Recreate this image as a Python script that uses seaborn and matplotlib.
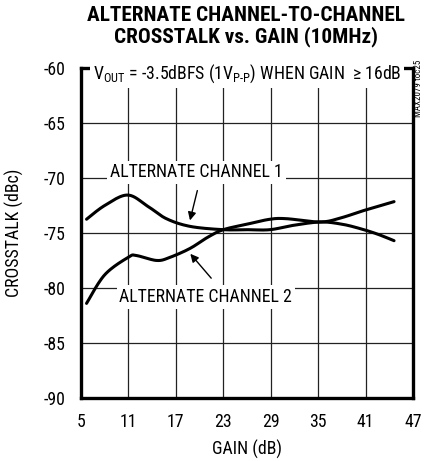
import numpy as np
import pandas as pd
import seaborn as sns
import matplotlib
matplotlib.use("Agg")
import matplotlib.pyplot as plt

# Measured crosstalk vs. gain at 10MHz
gain_ch1 = [5.7, 8.0, 10.9, 13.5, 15.8, 18.8, 23.0, 26.0, 28.9, 31.9, 35.3, 38.0, 40.3, 42.5, 44.6]
xtalk_ch1 = [-73.75, -72.5, -71.55, -72.6, -73.7, -74.4, -74.7, -74.7, -74.7, -74.3, -74.0, -74.2, -74.6, -75.1, -75.7]

gain_ch2 = [5.7, 8.0, 11.0, 12.0, 14.6, 16.3, 18.8, 21.0, 23.0, 26.0, 28.9, 31.0, 35.3, 38.0, 40.3, 42.5, 44.6]
xtalk_ch2 = [-81.4, -78.8, -77.2, -77.05, -77.5, -77.2, -76.4, -75.4, -74.7, -74.2, -73.75, -73.7, -74.0, -73.6, -73.06, -72.6, -72.15]

x_ticks = [5, 11, 17, 23, 29, 35, 41, 47]
y_ticks = [-60, -65, -70, -75, -80, -85, -90]

FONT = ["Roboto Condensed", "DejaVu Sans"]
FS = 12.8

sns.set_theme(style="white")
plt.rcParams["font.family"] = FONT
plt.rcParams["mathtext.fontset"] = "custom"
plt.rcParams["mathtext.rm"] = "Roboto Condensed"
plt.rcParams["text.color"] = "black"
plt.rcParams["xtick.color"] = "black"
plt.rcParams["ytick.color"] = "black"
plt.rcParams["axes.labelcolor"] = "black"

fig = plt.figure(figsize=(4.25, 4.61), dpi=100)
ax = fig.add_axes([0.1906, 0.1367, 0.9718 - 0.1906, 0.8525 - 0.1367])


def catmull_rom(xs, ys, steps=20):
    """Smooth curve through the measured points."""
    pts = list(zip(xs, ys))
    pts = [pts[0]] + pts + [pts[-1]]
    out_x, out_y = [], []
    for i in range(1, len(pts) - 2):
        p0, p1, p2, p3 = [np.array(p) for p in pts[i - 1:i + 3]]
        for t in np.linspace(0, 1, steps, endpoint=False):
            t2, t3 = t * t, t * t * t
            p = 0.5 * ((2 * p1) + (-p0 + p2) * t + (2 * p0 - 5 * p1 + 4 * p2 - p3) * t2
                       + (-p0 + 3 * p1 - 3 * p2 + p3) * t3)
            out_x.append(p[0])
            out_y.append(p[1])
    out_x.append(xs[-1])
    out_y.append(ys[-1])
    return pd.DataFrame({"gain": out_x, "xtalk": out_y})


s1 = catmull_rom(gain_ch1, xtalk_ch1)
s2 = catmull_rom(gain_ch2, xtalk_ch2)
sns.lineplot(data=s1, x="gain", y="xtalk", ax=ax, color="black", lw=2.2, sort=False, zorder=4)
sns.lineplot(data=s2, x="gain", y="xtalk", ax=ax, color="black", lw=2.2, sort=False, zorder=4)

ax.set_xlim(5, 47)
ax.set_ylim(-90, -60)
ax.set_xticks(x_ticks)
ax.set_yticks(y_ticks)
ax.set_xticklabels([str(v) for v in x_ticks], fontsize=FS)
ax.set_yticklabels([str(v) for v in y_ticks], fontsize=FS)
ax.tick_params(axis="x", length=0, pad=11)
ax.tick_params(axis="y", length=0, pad=11)
ax.grid(True, color="#222222", lw=0.9)
ax.set_axisbelow(True)
for sp in ax.spines.values():
    sp.set_linewidth(2.4)
    sp.set_color("black")

ax.set_xlabel("GAIN (dB)", fontsize=FS, labelpad=6)
ax.set_ylabel("CROSSTALK (dBc)", fontsize=FS, labelpad=14)

fig.text(0.579, 0.986, "ALTERNATE CHANNEL-TO-CHANNEL\nCROSSTALK vs. GAIN (10MHz)",
         ha="center", va="top", fontsize=15.3, fontweight="bold", linespacing=1.08)

box = dict(facecolor="white", edgecolor="none", pad=2)
ax.text(26.0, -60.5, r"V$_{\rm OUT}$ = -3.5dBFS (1V$_{\rm P\text{-}P}$) WHEN GAIN  ≥ 16dB",
        ha="center", va="center", fontsize=FS, bbox=box, zorder=3)
ax.text(19.6, -69.5, "ALTERNATE CHANNEL 1", ha="center", va="center", fontsize=FS,
        bbox=box, zorder=3)
ax.text(20.8, -80.8, "ALTERNATE CHANNEL 2", ha="center", va="center", fontsize=FS,
        bbox=box, zorder=3)

arrow = dict(arrowstyle="-|>", color="black", lw=1.0, mutation_scale=12)
ax.annotate("", xy=(18.7, -74.1), xytext=(19.8, -70.9), arrowprops=arrow, zorder=5)
ax.annotate("", xy=(18.6, -76.7), xytext=(21.7, -79.3), arrowprops=arrow, zorder=5)

fig.text(0.985, 0.87, "MAX2079 toc25", rotation=90, ha="center", va="top", fontsize=6.5)

fig.savefig("out.png", dpi=100, facecolor="white")
